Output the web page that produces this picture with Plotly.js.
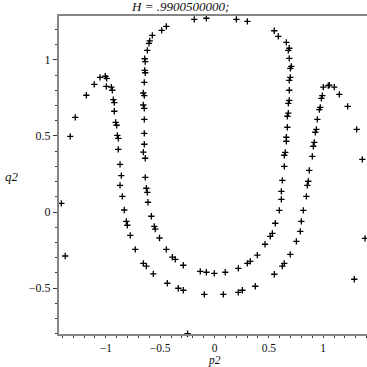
<!DOCTYPE html>
<html>
<head>
<meta charset="utf-8">
<script src="https://cdn.plot.ly/plotly-3.0.1.min.js"></script>
<style>html,body{margin:0;padding:0;background:#fff;}#plot{width:367px;height:367px;}</style>
</head>
<body>
<div id="plot"></div>
<script>
// Outer curve (left hump, bottom arc, right hump)
const p2Outer = [-1.409,-1.373,-1.327,-1.281,-1.179,-1.106,-1.053,-1.005,-0.992,-0.995,-0.949,-0.940,-0.931,-0.922,-0.922,-0.909,-0.900,-0.894,-0.885,-0.885,-0.869,-0.857,-0.869,-0.848,-0.830,-0.811,-0.802,-0.775,-0.729,-0.655,-0.627,-0.563,-0.434,-0.333,-0.287,-0.094,0.081,0.219,0.256,0.375,0.550,0.624,0.642,0.697,0.753,0.789,0.799,0.817,0.845,0.854,0.863,0.872,0.900,0.909,0.918,0.927,0.937,0.946,0.964,0.973,0.983,0.992,1.001,1.047,1.056,1.102,1.148,1.225,1.308,1.360,1.385,1.286,-0.248];
const q2Outer = [0.057,-0.289,0.497,0.622,0.767,0.839,0.885,0.892,0.878,0.826,0.821,0.800,0.738,0.718,0.662,0.589,0.570,0.504,0.484,0.412,0.313,0.239,0.175,0.103,0.013,-0.061,-0.087,-0.153,-0.245,-0.337,-0.355,-0.407,-0.468,-0.501,-0.514,-0.541,-0.541,-0.528,-0.514,-0.488,-0.409,-0.355,-0.337,-0.278,-0.193,-0.127,-0.061,0.011,0.103,0.175,0.202,0.274,0.366,0.432,0.458,0.524,0.543,0.609,0.672,0.688,0.747,0.764,0.821,0.830,0.834,0.821,0.773,0.694,0.543,0.346,-0.173,-0.442,-0.800];
// Inner U curve
const p2Inner = [-0.572,-0.596,-0.603,-0.618,-0.642,-0.637,-0.642,-0.637,-0.646,-0.655,-0.646,-0.655,-0.646,-0.646,-0.646,-0.646,-0.655,-0.637,-0.637,-0.627,-0.618,-0.612,-0.581,-0.554,-0.545,-0.506,-0.443,-0.388,-0.361,-0.287,-0.131,-0.075,-0.002,0.099,0.219,0.302,0.329,0.394,0.465,0.513,0.532,0.559,0.596,0.615,0.615,0.624,0.642,0.642,0.651,0.661,0.661,0.670,0.670,0.679,0.679,0.688,0.688,0.688,0.697,0.697,0.707,0.688,0.679,0.688,0.661,0.587,0.550,0.302,0.201,-0.075,-0.186,-0.443,-0.486];
const q2Inner = [1.161,1.124,1.108,1.062,1.007,0.988,0.931,0.915,0.852,0.782,0.764,0.703,0.681,0.609,0.517,0.445,0.394,0.353,0.228,0.156,0.129,0.064,-0.028,-0.094,-0.112,-0.171,-0.245,-0.296,-0.311,-0.350,-0.390,-0.396,-0.403,-0.396,-0.370,-0.337,-0.324,-0.284,-0.212,-0.160,-0.140,-0.074,0.011,0.083,0.136,0.208,0.300,0.373,0.392,0.465,0.491,0.557,0.629,0.649,0.714,0.734,0.800,0.865,0.885,0.944,0.957,1.010,1.062,1.076,1.115,1.154,1.191,1.253,1.266,1.273,1.266,1.220,1.194];

const xTickVals = [-1,-0.5,0,0.5,1];
const xTickText = ['\u22121','\u22120.5','0','0.5','1'];
const yTickVals = [-0.5,0,0.5,1];
const yTickText = ['\u22120.5','0','0.5','1'];
const titleText = 'H = .9900500000;';
const xLabel = 'p2';
const yLabel = 'q2';

const markerStyle = {symbol:'cross-thin', size:4.5, color:'#000', line:{color:'#000', width:1.3}};
const serif = 'Liberation Serif, Times New Roman, serif';

const traces = [
  {x:p2Outer, y:q2Outer, mode:'markers', type:'scatter', marker:markerStyle, cliponaxis:false, hoverinfo:'none'},
  {x:p2Inner, y:q2Inner, mode:'markers', type:'scatter', marker:markerStyle, cliponaxis:false, hoverinfo:'none'}
];

const axisCommon = {
  showgrid:false, zeroline:false, showline:true, linecolor:'#858585', linewidth:2,
  ticks:'outside', ticklen:4, tickwidth:1, tickcolor:'#333',
  tickfont:{family:serif, size:12, color:'#111'},
  minor:{dtick:0.1, ticks:'outside', ticklen:2, tickwidth:1, tickcolor:'#333', showgrid:false}
};

const layout = {
  width:367, height:367,
  margin:{l:59, r:0, t:16, b:33, pad:0},
  paper_bgcolor:'#fff', plot_bgcolor:'#fff',
  showlegend:false,
  xaxis:Object.assign({}, axisCommon, {range:[-1.4305,1.4029], tickvals:xTickVals, ticktext:xTickText, mirror:true, tick0:0, ticklen:2, tickfont:{family:serif, size:11.5, color:'#111'}}),
  yaxis:Object.assign({}, axisCommon, {range:[-0.8016,1.2878], tickvals:yTickVals, ticktext:yTickText, tick0:0}),
  annotations:[
    {text:titleText, xref:'paper', yref:'paper', x:(180-59)/308, y:1, yshift:10, xanchor:'center', yanchor:'middle', showarrow:false, font:{family:serif, size:13, color:'#111', style:'italic'}},
    {text:xLabel, xref:'paper', yref:'paper', x:(214-59)/308, y:0, yshift:-26.5, xanchor:'center', yanchor:'middle', showarrow:false, font:{family:serif, size:11.5, color:'#111', style:'italic'}},
    {text:yLabel, xref:'paper', yref:'paper', x:0, xshift:-47, y:(334-176)/318, xanchor:'center', yanchor:'middle', showarrow:false, font:{family:serif, size:13, color:'#111', style:'italic'}}
  ]
};

Plotly.newPlot('plot', traces, layout, {staticPlot:true, displayModeBar:false});
</script>
</body>
</html>
